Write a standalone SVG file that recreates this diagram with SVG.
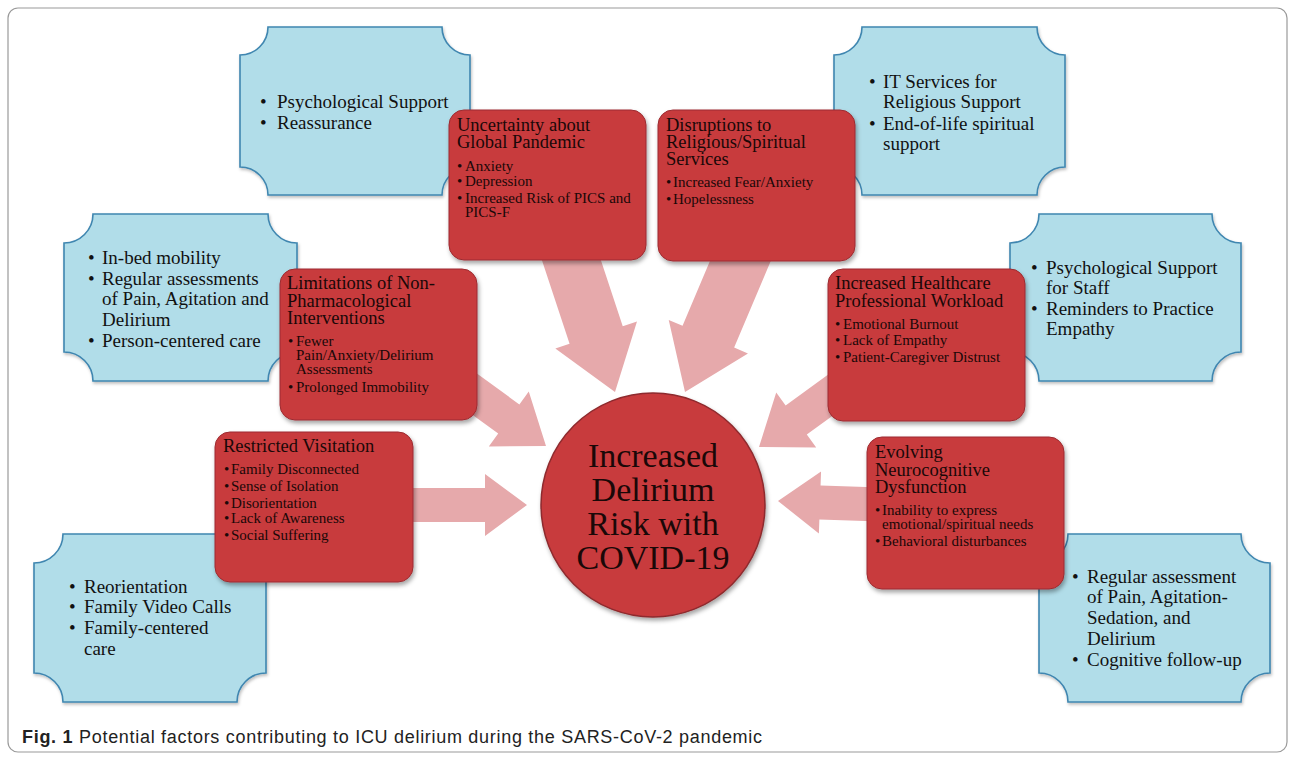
<svg xmlns="http://www.w3.org/2000/svg" width="1295" height="760" viewBox="0 0 1295 760">
<defs>
<filter id="sh" x="-10%" y="-10%" width="130%" height="130%">
<feDropShadow dx="1.5" dy="3" stdDeviation="2" flood-color="#000" flood-opacity="0.35"/>
</filter>
<filter id="shb" x="-10%" y="-10%" width="130%" height="130%">
<feDropShadow dx="1" dy="2" stdDeviation="1.5" flood-color="#000" flood-opacity="0.25"/>
</filter>
</defs>
<style>
.frame{fill:#fff;stroke:#9a9a9a;stroke-width:1.2}
.blue{fill:#b1dde9;stroke:#3f86b0;stroke-width:1.6;filter:url(#shb)}
.red{fill:#c83a3e;stroke:#9c2c30;stroke-width:1;filter:url(#sh)}
.arrow{fill:#e6a9ab}
.bt{font-family:"Liberation Serif","Times New Roman",serif;font-size:19px;fill:#111}
.rt{font-family:"Liberation Serif","Times New Roman",serif;font-size:18.5px;fill:#1a0808}
.rb{font-family:"Liberation Serif","Times New Roman",serif;font-size:15px;fill:#1a0808}
.ct{font-family:"Liberation Serif","Times New Roman",serif;font-size:34px;fill:#1a0808;text-anchor:middle}
.cap{font-family:"Liberation Sans",Arial,sans-serif;font-size:18px;fill:#222}
</style>
<rect class="frame" x="8" y="8" width="1279" height="744" rx="10"/>

<g id="blue-psych">
<path class="blue" d="M268,27 H442 A28,28 0 0 0 470,55 V167 A28,28 0 0 0 442,195 H268 A28,28 0 0 0 240,167 V55 A28,28 0 0 0 268,27 Z"/>
<text class="bt" x="260" y="108">•</text><text class="bt" x="277" y="108">Psychological Support</text>
<text class="bt" x="260" y="129">•</text><text class="bt" x="277" y="129">Reassurance</text>
</g>
<g id="blue-it">
<path class="blue" d="M862,27 H1037 A28,28 0 0 0 1065,55 V167 A28,28 0 0 0 1037,195 H862 A28,28 0 0 0 834,167 V55 A28,28 0 0 0 862,27 Z"/>
<text class="bt" x="869" y="88">•</text><text class="bt" x="883" y="88">IT Services for</text>
<text class="bt" x="883" y="108">Religious Support</text>
<text class="bt" x="869" y="130">•</text><text class="bt" x="883" y="130">End-of-life spiritual</text>
<text class="bt" x="883" y="150">support</text>
</g>
<g id="blue-mobility">
<path class="blue" d="M93,214 H268 A29,29 0 0 0 297,243 V352 A29,29 0 0 0 268,381 H93 A29,29 0 0 0 64,352 V243 A29,29 0 0 0 93,214 Z"/>
<text class="bt" x="88" y="264">•</text><text class="bt" x="102" y="264">In-bed mobility</text>
<text class="bt" x="88" y="285">•</text><text class="bt" x="102" y="285">Regular assessments</text>
<text class="bt" x="102" y="305">of Pain, Agitation and</text>
<text class="bt" x="102" y="326">Delirium</text>
<text class="bt" x="88" y="347">•</text><text class="bt" x="102" y="347">Person-centered care</text>
</g>
<g id="blue-staff">
<path class="blue" d="M1039,214 H1212 A29,29 0 0 0 1241,243 V352 A29,29 0 0 0 1212,381 H1039 A29,29 0 0 0 1010,352 V243 A29,29 0 0 0 1039,214 Z"/>
<text class="bt" x="1031" y="274">•</text><text class="bt" x="1046" y="274">Psychological Support</text>
<text class="bt" x="1046" y="294">for Staff</text>
<text class="bt" x="1031" y="315">•</text><text class="bt" x="1046" y="315">Reminders to Practice</text>
<text class="bt" x="1046" y="335">Empathy</text>
</g>
<g id="blue-reorient">
<path class="blue" d="M63,534 H237 A29,29 0 0 0 266,563 V673 A29,29 0 0 0 237,702 H63 A29,29 0 0 0 34,673 V563 A29,29 0 0 0 63,534 Z"/>
<text class="bt" x="69" y="593">•</text><text class="bt" x="84" y="593">Reorientation</text>
<text class="bt" x="69" y="613">•</text><text class="bt" x="84" y="613">Family Video Calls</text>
<text class="bt" x="69" y="634">•</text><text class="bt" x="84" y="634">Family-centered</text>
<text class="bt" x="84" y="655">care</text>
</g>
<g id="blue-cognitive">
<path class="blue" d="M1068,534 H1241 A29,29 0 0 0 1270,563 V673 A29,29 0 0 0 1241,702 H1068 A29,29 0 0 0 1039,673 V563 A29,29 0 0 0 1068,534 Z"/>
<text class="bt" x="1072" y="583">•</text><text class="bt" x="1087" y="583">Regular assessment</text>
<text class="bt" x="1087" y="603">of Pain, Agitation-</text>
<text class="bt" x="1087" y="624">Sedation, and</text>
<text class="bt" x="1087" y="645">Delirium</text>
<text class="bt" x="1072" y="666">•</text><text class="bt" x="1087" y="666">Cognitive follow-up</text>
</g>

<g id="connectors">
<path class="arrow" transform="translate(615,392) rotate(71.7)" d="M-175,-28 L-60,-28 L-60,-43 L0,0 L-60,43 L-60,28 L-175,28 Z"/>
<path class="arrow" transform="translate(685,392) rotate(112.9)" d="M-175,-28 L-60,-28 L-60,-43 L0,0 L-60,43 L-60,28 L-175,28 Z"/>
<path class="arrow" transform="translate(546,446) rotate(36)" d="M-130,-18 L-46,-18 L-46,-34 L0,0 L-46,34 L-46,18 L-130,18 Z"/>
<path class="arrow" transform="translate(759,447) rotate(144)" d="M-130,-18 L-46,-18 L-46,-34 L0,0 L-46,34 L-46,18 L-130,18 Z"/>
<path class="arrow" transform="translate(527,505)" d="M-130,-17 L-42,-17 L-42,-31 L0,0 L-42,31 L-42,17 L-130,17 Z"/>
<path class="arrow" transform="translate(778,501) rotate(182)" d="M-110,-17 L-42,-17 L-42,-31 L0,0 L-42,31 L-42,17 L-110,17 Z"/>
</g>

<g id="red-uncertainty">
<rect class="red" x="449" y="110" width="197" height="150" rx="15"/>
<text class="rt" x="457" y="131">Uncertainty about</text>
<text class="rt" x="457" y="148">Global Pandemic</text>
<text class="rb" x="457" y="171">•</text><text class="rb" x="465" y="171">Anxiety</text>
<text class="rb" x="457" y="186">•</text><text class="rb" x="465" y="186">Depression</text>
<text class="rb" x="457" y="203">•</text><text class="rb" x="465" y="203">Increased Risk of PICS and</text>
<text class="rb" x="465" y="217">PICS-F</text>
</g>
<g id="red-religious">
<rect class="red" x="658" y="110" width="197" height="151" rx="15"/>
<text class="rt" x="666" y="131">Disruptions to</text>
<text class="rt" x="666" y="148">Religious/Spiritual</text>
<text class="rt" x="666" y="165">Services</text>
<text class="rb" x="666" y="187">•</text><text class="rb" x="673" y="187">Increased Fear/Anxiety</text>
<text class="rb" x="666" y="204">•</text><text class="rb" x="673" y="204">Hopelessness</text>
</g>
<g id="red-limitations">
<rect class="red" x="280" y="269" width="197" height="151" rx="15"/>
<text class="rt" x="287" y="289">Limitations of Non-</text>
<text class="rt" x="287" y="307">Pharmacological</text>
<text class="rt" x="287" y="324">Interventions</text>
<text class="rb" x="288" y="346">•</text><text class="rb" x="296" y="346">Fewer</text>
<text class="rb" x="296" y="360">Pain/Anxiety/Delirium</text>
<text class="rb" x="296" y="374">Assessments</text>
<text class="rb" x="288" y="392">•</text><text class="rb" x="296" y="392">Prolonged Immobility</text>
</g>
<g id="red-workload">
<rect class="red" x="828" y="269" width="197" height="152" rx="15"/>
<text class="rt" x="835" y="289">Increased Healthcare</text>
<text class="rt" x="835" y="307">Professional Workload</text>
<text class="rb" x="835" y="329">•</text><text class="rb" x="843" y="329">Emotional Burnout</text>
<text class="rb" x="835" y="345">•</text><text class="rb" x="843" y="345">Lack of Empathy</text>
<text class="rb" x="835" y="362">•</text><text class="rb" x="843" y="362">Patient-Caregiver Distrust</text>
</g>
<g id="red-visitation">
<rect class="red" x="215" y="432" width="198" height="150" rx="15"/>
<text class="rt" x="223" y="452">Restricted Visitation</text>
<text class="rb" x="224" y="474">•</text><text class="rb" x="231" y="474">Family Disconnected</text>
<text class="rb" x="224" y="491">•</text><text class="rb" x="231" y="491">Sense of Isolation</text>
<text class="rb" x="224" y="508">•</text><text class="rb" x="231" y="508">Disorientation</text>
<text class="rb" x="224" y="523">•</text><text class="rb" x="231" y="523">Lack of Awareness</text>
<text class="rb" x="224" y="540">•</text><text class="rb" x="231" y="540">Social Suffering</text>
</g>
<g id="red-neuro">
<rect class="red" x="867" y="437" width="197" height="152" rx="15"/>
<text class="rt" x="875" y="458">Evolving</text>
<text class="rt" x="875" y="476">Neurocognitive</text>
<text class="rt" x="875" y="493">Dysfunction</text>
<text class="rb" x="875" y="515">•</text><text class="rb" x="882" y="515">Inability to express</text>
<text class="rb" x="882" y="529">emotional/spiritual needs</text>
<text class="rb" x="875" y="546">•</text><text class="rb" x="882" y="546">Behavioral disturbances</text>
</g>

<g id="center">
<circle cx="653" cy="505" r="112" fill="#c83a3e" stroke="#8e2a2d" stroke-width="1.5" filter="url(#sh)"/>
<text class="ct" x="653" y="467">Increased</text>
<text class="ct" x="653" y="501">Delirium</text>
<text class="ct" x="653" y="535">Risk with</text>
<text class="ct" x="653" y="569">COVID-19</text>
</g>

<text class="cap" x="22" y="743" textLength="740" lengthAdjust="spacing"><tspan font-weight="bold">Fig. 1</tspan> Potential factors contributing to ICU delirium during the SARS-CoV-2 pandemic</text>
</svg>
